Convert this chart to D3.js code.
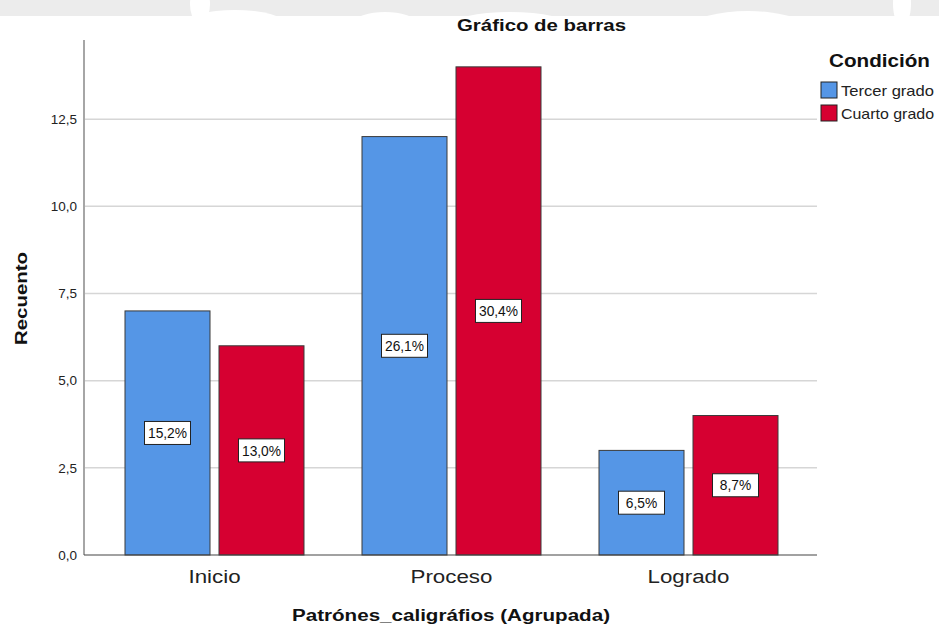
<!DOCTYPE html>
<html>
<head>
<meta charset="utf-8">
<script src="https://cdn.jsdelivr.net/npm/d3@7"></script>
<style>
  body { margin: 0; background: #fff; }
  svg { display: block; }
  text { font-family: "Liberation Sans", Arial, sans-serif; }
</style>
</head>
<body>
<svg id="chart" width="939" height="629"></svg>
<script>
// ---- data ----
const categories = ["Inicio", "Proceso", "Logrado"];
const seriesNames = ["Tercer grado", "Cuarto grado"];
const tercerGrado = [7, 12, 3];
const cuartoGrado = [6, 14, 4];
const tercerPct = ["15,2%", "26,1%", "6,5%"];
const cuartoPct = ["13,0%", "30,4%", "8,7%"];
const yTicks = [0, 2.5, 5, 7.5, 10, 12.5];
const colors = ["#5596e6", "#d60031"];

const svg = d3.select("#chart");

// faint watermark band at top
svg.append("clipPath").attr("id", "wmclip").append("rect")
  .attr("x", 0).attr("y", 0).attr("width", 939).attr("height", 16);
const wm = svg.append("g").attr("clip-path", "url(#wmclip)");
wm.append("rect").attr("x", 0).attr("y", 0).attr("width", 939).attr("height", 16).attr("fill", "#ececec");
[[235, 24, 50, 14], [385, 22, 30, 10], [510, 26, 60, 14], [748, 26, 55, 15], [200, 4, 10, 20], [902, 4, 9, 22]].forEach(e => {
  wm.append("ellipse").attr("cx", e[0]).attr("cy", e[1]).attr("rx", e[2]).attr("ry", e[3]).attr("fill", "#fff");
});

const y = d3.scaleLinear().domain([0, 14.77]).range([555, 40]);
const x0 = d3.scaleBand().domain(categories).range([96, 807]);
const x1 = d3.scaleBand().domain(seriesNames).range([29, 208]).paddingInner(0.0957);

const plotLeft = 84, plotRight = 817;

function stretchText(sel, width) {
  sel.attr("textLength", width).attr("lengthAdjust", "spacingAndGlyphs");
}

// gridlines
svg.append("g").selectAll("line").data(yTicks.filter(d => d > 0)).join("line")
  .attr("x1", plotLeft).attr("x2", plotRight)
  .attr("y1", d => y(d)).attr("y2", d => y(d))
  .attr("stroke", "#d6d6d6").attr("stroke-width", 1.5);

// y axis
const yAxis = d3.axisLeft(y).tickValues(yTicks).tickSize(0).tickPadding(7)
  .tickFormat(d => d3.format(".1f")(d).replace(".", ","));
const gy = svg.append("g").attr("transform", `translate(${plotLeft},0)`).call(yAxis);
gy.select(".domain").remove();
gy.selectAll("text").attr("font-size", 13.5).attr("fill", "#222").attr("font-family", "Liberation Sans, Arial, sans-serif");
svg.append("line").attr("x1", plotLeft).attr("x2", plotLeft).attr("y1", 40).attr("y2", 555)
  .attr("stroke", "#a6a6a6").attr("stroke-width", 2);

// bars
const rows = categories.map((c, i) => ({
  cat: c,
  vals: [
    { s: seriesNames[0], v: tercerGrado[i], p: tercerPct[i], c: colors[0] },
    { s: seriesNames[1], v: cuartoGrado[i], p: cuartoPct[i], c: colors[1] }
  ]
}));

const groups = svg.append("g").selectAll("g").data(rows).join("g")
  .attr("transform", d => `translate(${x0(d.cat)},0)`);

groups.selectAll("rect").data(d => d.vals).join("rect")
  .attr("x", d => x1(d.s)).attr("width", x1.bandwidth())
  .attr("y", d => y(d.v)).attr("height", d => y(0) - y(d.v))
  .attr("fill", d => d.c).attr("stroke", "#3a3a3a").attr("stroke-width", 1);

// percentage labels
const lab = groups.selectAll("g.lab").data(d => d.vals).join("g").attr("class", "lab")
  .attr("transform", d => `translate(${x1(d.s) + x1.bandwidth() / 2},${y(d.v / 2)})`);
lab.append("rect").attr("x", -23).attr("y", -11.5).attr("width", 46).attr("height", 23)
  .attr("fill", "#fff").attr("stroke", "#222").attr("stroke-width", 1);
lab.append("text").attr("text-anchor", "middle").attr("dy", "0.36em")
  .attr("font-size", 14.5).attr("fill", "#111").text(d => d.p)
  .each(function () { stretchText(d3.select(this), this.getComputedTextLength() * 0.95); });

// baseline
svg.append("line").attr("x1", plotLeft).attr("x2", plotRight).attr("y1", y(0)).attr("y2", y(0))
  .attr("stroke", "#444").attr("stroke-width", 1.2);

// x axis labels
svg.append("g").selectAll("text").data(categories).join("text")
  .attr("x", d => x0(d) + x0.bandwidth() / 2).attr("y", 583)
  .attr("text-anchor", "middle").attr("font-size", 18).attr("fill", "#222")
  .text(d => d)
  .each(function () { stretchText(d3.select(this), this.getComputedTextLength() * 1.24); });

// titles
svg.append("text").attr("x", 541.5).attr("y", 31).attr("text-anchor", "middle")
  .attr("font-size", 17).attr("font-weight", "bold").attr("fill", "#111")
  .text("Gráfico de barras").call(stretchText, 169);

svg.append("text").attr("x", 451).attr("y", 621).attr("text-anchor", "middle")
  .attr("font-size", 16).attr("font-weight", "bold").attr("fill", "#111")
  .text("Patrónes_caligráfios (Agrupada)").call(stretchText, 318);

svg.append("text").attr("transform", "translate(27,298.5) rotate(-90)").attr("text-anchor", "middle")
  .attr("font-size", 17).attr("font-weight", "bold").attr("fill", "#111")
  .text("Recuento").call(stretchText, 93);

// legend
svg.append("text").attr("x", 829).attr("y", 67)
  .attr("font-size", 18).attr("font-weight", "bold").attr("fill", "#111")
  .text("Condición").call(stretchText, 101);

const leg = svg.append("g").selectAll("g").data(seriesNames).join("g")
  .attr("transform", (d, i) => `translate(821,${82 + i * 23})`);
leg.append("rect").attr("width", 16).attr("height", 16)
  .attr("fill", (d, i) => colors[i]).attr("stroke", "#222").attr("stroke-width", 1);
leg.append("text").attr("x", 20).attr("y", 14).attr("font-size", 14.5).attr("fill", "#222")
  .text(d => d).call(stretchText, 93);
</script>
</body>
</html>
